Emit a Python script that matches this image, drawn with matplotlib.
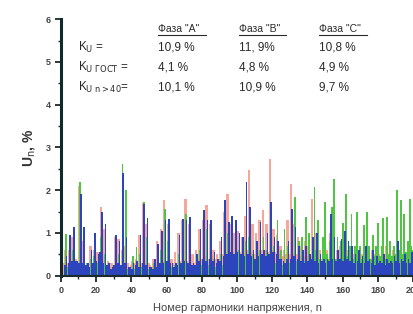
import numpy as np
import matplotlib
matplotlib.use('Agg')
import matplotlib.pyplot as plt

plt.rcParams['font.family'] = ['Liberation Sans', 'DejaVu Sans']

# harmonic numbers 1..200
harm = np.arange(1, 201)

# Phase A (red), % of fundamental, n = 1..200
phase_a = [
    0.00, 0.30, 0.60, 0.30, 0.60, 0.25, 0.90, 0.30, 0.40, 0.25,
    2.10, 0.30, 0.80, 0.25, 0.30, 0.20, 0.70, 0.25, 0.60, 0.30,
    0.55, 0.30, 1.60, 0.30, 1.10, 0.25, 0.35, 0.20, 0.30, 0.25,
    0.90, 0.30, 0.85, 0.25, 0.60, 0.30, 0.70, 0.30, 0.20, 0.25,
    0.35, 0.30, 0.40, 0.30, 0.95, 0.30, 1.70, 0.30, 1.20, 0.30,
    0.25, 0.20, 0.40, 0.30, 0.80, 0.30, 1.10, 0.35, 1.77, 0.35,
    1.20, 0.35, 0.40, 0.30, 0.55, 0.30, 1.00, 0.35, 1.30, 0.40,
    1.80, 0.35, 1.20, 0.30, 0.50, 0.30, 0.60, 0.40, 1.10, 0.40,
    1.30, 0.45, 1.65, 0.40, 1.20, 0.45, 0.60, 0.40, 0.50, 0.40,
    0.80, 0.50, 1.50, 0.55, 1.92, 0.55, 1.20, 0.55, 1.00, 0.60,
    1.05, 0.55, 0.90, 0.50, 1.40, 0.60, 2.47, 0.55, 1.20, 0.50,
    1.00, 0.55, 1.30, 0.60, 1.53, 0.60, 1.20, 0.55, 2.74, 0.60,
    1.10, 0.55, 0.95, 0.50, 0.70, 0.45, 0.60, 0.50, 1.30, 0.50,
    2.15, 0.50, 1.20, 0.50, 0.90, 0.45, 0.70, 0.45, 0.80, 0.45,
    0.70, 0.45, 1.80, 0.45, 1.00, 0.40, 0.60, 0.40, 0.70, 0.40,
    0.60, 0.40, 1.00, 0.40, 1.40, 0.40, 0.60, 0.40, 0.70, 0.40,
    0.80, 0.40, 0.60, 0.35, 0.70, 0.35, 0.50, 0.35, 0.60, 0.35,
    0.50, 0.35, 0.70, 0.35, 0.50, 0.30, 0.60, 0.30, 0.50, 0.30,
    0.50, 0.30, 0.60, 0.30, 0.70, 0.30, 0.50, 0.30, 0.60, 0.30,
    0.70, 0.30, 0.60, 0.30, 0.60, 0.30, 0.50, 0.30, 0.70, 0.30,
]

# Phase C (green)
phase_c = [
    0.00, 0.15, 0.97, 0.20, 0.50, 0.20, 0.60, 0.20, 0.30, 0.15,
    2.18, 0.20, 0.75, 0.15, 0.30, 0.15, 0.40, 0.20, 0.45, 0.15,
    0.30, 0.20, 0.90, 0.20, 0.50, 0.15, 0.20, 0.10, 0.15, 0.20,
    0.40, 0.15, 0.50, 0.20, 2.62, 0.20, 2.00, 0.15, 0.20, 0.10,
    0.45, 0.15, 0.68, 0.20, 0.50, 0.20, 1.73, 0.20, 0.90, 0.15,
    0.20, 0.10, 0.30, 0.15, 0.45, 0.20, 0.60, 0.20, 1.55, 0.20,
    0.80, 0.20, 0.20, 0.15, 0.25, 0.20, 0.50, 0.20, 0.70, 0.20,
    1.45, 0.20, 0.90, 0.20, 0.25, 0.20, 0.40, 0.20, 0.60, 0.25,
    0.80, 0.25, 1.10, 0.25, 0.70, 0.20, 0.40, 0.20, 0.30, 0.20,
    0.50, 0.25, 0.80, 0.30, 1.00, 0.30, 0.60, 0.25, 0.50, 0.25,
    0.60, 0.25, 0.50, 0.30, 0.80, 0.30, 0.90, 0.30, 0.50, 0.25,
    0.70, 0.30, 0.60, 0.25, 0.90, 0.30, 0.60, 0.30, 1.20, 0.30,
    0.70, 0.30, 1.30, 0.30, 0.60, 0.25, 1.10, 0.30, 0.70, 0.30,
    0.90, 0.30, 1.85, 0.35, 0.80, 0.30, 0.90, 0.35, 1.38, 0.30,
    1.00, 0.35, 0.90, 2.08, 0.60, 1.30, 0.40, 0.35, 0.90, 1.73,
    0.50, 0.40, 0.80, 1.60, 2.27, 0.40, 0.90, 0.40, 0.80, 1.24,
    0.50, 1.92, 0.45, 0.70, 1.45, 0.40, 0.70, 1.50, 0.45, 0.70,
    0.40, 1.18, 0.45, 1.50, 0.70, 0.40, 0.95, 0.45, 0.70, 1.24,
    0.45, 0.70, 1.34, 0.40, 1.38, 0.50, 0.80, 0.45, 0.70, 0.50,
    2.00, 0.60, 1.77, 0.50, 1.45, 0.55, 0.80, 1.80, 0.70, 0.60,
]

# Phase B (blue)
phase_b = [
    0.00, 0.25, 0.45, 0.30, 0.95, 0.35, 1.13, 0.35, 0.35, 0.30,
    1.90, 0.30, 1.15, 0.25, 0.30, 0.20, 0.60, 0.30, 1.00, 0.35,
    0.50, 0.55, 1.50, 0.30, 1.22, 0.25, 0.30, 0.15, 0.20, 0.25,
    0.95, 0.30, 0.80, 0.25, 2.40, 0.30, 0.90, 0.20, 0.20, 0.15,
    0.30, 0.25, 0.35, 0.20, 0.95, 0.30, 1.68, 0.25, 1.35, 0.20,
    0.20, 0.15, 0.40, 0.20, 0.75, 0.30, 1.05, 0.30, 1.30, 0.35,
    1.33, 0.30, 0.30, 0.20, 0.30, 0.25, 0.95, 0.30, 1.33, 0.35,
    1.30, 0.30, 1.37, 0.25, 0.30, 0.25, 0.50, 0.35, 1.10, 0.40,
    1.53, 0.35, 1.30, 0.40, 1.30, 0.35, 0.55, 0.30, 0.40, 0.35,
    0.90, 0.45, 1.77, 0.50, 1.25, 0.55, 1.40, 0.50, 1.30, 0.55,
    1.00, 0.50, 0.90, 0.45, 2.20, 0.50, 1.60, 0.45, 0.60, 0.40,
    0.80, 0.45, 1.25, 0.50, 0.60, 0.45, 1.00, 0.50, 1.72, 0.55,
    0.90, 0.50, 0.80, 0.40, 0.40, 0.35, 0.30, 0.40, 0.80, 0.40,
    1.55, 0.45, 1.15, 0.40, 0.70, 0.35, 0.60, 0.30, 0.70, 0.35,
    0.50, 0.40, 0.90, 0.35, 1.00, 0.30, 0.50, 0.35, 0.40, 0.30,
    0.40, 0.35, 1.45, 0.40, 0.90, 0.35, 0.60, 0.40, 0.85, 0.35,
    1.05, 0.40, 0.80, 0.35, 0.70, 0.30, 0.50, 0.35, 0.60, 0.30,
    0.45, 0.30, 0.70, 0.35, 0.40, 0.30, 0.60, 0.25, 0.45, 0.30,
    0.35, 0.30, 0.50, 0.25, 0.40, 0.30, 0.35, 0.30, 0.45, 0.35,
    0.80, 0.30, 0.40, 0.35, 0.50, 0.30, 0.40, 0.30, 0.55, 0.30,
]

# summary table
phases = ['Фаза "A"', 'Фаза "B"', 'Фаза "C"']
row_labels = [r'K$_{\mathrm{U}}$ =', r'K$_{\mathrm{U\ ГОСТ}}$ =', r'K$_{\mathrm{U\ n>40}}$=']
table_vals = [
    ['10,9 %', '11, 9%', '10,8 %'],
    ['4,1 %', '4,8 %', '4,9 %'],
    ['10,1 %', '10,9 %', '9,7 %'],
]

fig = plt.figure(figsize=(4.14, 3.14), dpi=100)
ax = fig.add_axes([0.147, 0.122, 0.851, 0.817])

ax.bar(harm - 0.3, phase_a, width=1.4, color='#f58a78', alpha=0.75, linewidth=0)
ax.bar(harm, phase_c, width=1.0, color='#52c443', linewidth=0)
ax.bar(harm + 0.3, phase_b, width=0.9, color='#2d45bc', linewidth=0)

ax.set_xlim(0, 200)
ax.set_ylim(0, 6)
ax.set_xticks(range(0, 201, 20))
ax.set_xticks(range(0, 201, 10), minor=True)
ax.set_yticks(range(0, 7))
ax.set_yticks(np.arange(0, 6.01, 0.5), minor=True)

for s in ['top', 'right']:
    ax.spines[s].set_visible(False)
ax.spines['left'].set_linewidth(2.2)
ax.spines['left'].set_color('#0f2a2a')
ax.spines['bottom'].set_linewidth(1.5)
ax.spines['bottom'].set_color('#1a2a2a')

ax.tick_params(which='major', direction='out', length=4, width=1.3, colors='#1a2a2a',
               labelsize=6.5, labelcolor='#444444')
ax.tick_params(which='minor', direction='out', length=2.5, width=1.0, colors='#1a2a2a')
for lbl in ax.get_xticklabels() + ax.get_yticklabels():
    lbl.set_fontweight('bold')

ax.set_ylabel(r'U$_\mathrm{n}$, %', fontsize=10, fontweight='bold', color='#333333', labelpad=6)
ax.set_xlabel('Номер гармоники напряжения, n', fontsize=8, color='#444444', labelpad=6)

# summary text block
col_x = [0.276, 0.505, 0.733]
row_y = [0.891, 0.813, 0.735]
txt_color = '#2a2a2a'
for x, name in zip(col_x, phases):
    ax.text(x, 0.962, name, transform=ax.transAxes, fontsize=7.5, color=txt_color,
            ha='left', va='center')
    ax.plot([x, x + 0.135], [0.94, 0.94], transform=ax.transAxes, color=txt_color,
            lw=0.8, clip_on=False)
for y, lbl, vals in zip(row_y, row_labels, table_vals):
    ax.text(0.048, y, lbl, transform=ax.transAxes, fontsize=8.5, color=txt_color,
            ha='left', va='center')
    for x, v in zip(col_x, vals):
        ax.text(x, y, v, transform=ax.transAxes, fontsize=8.5, color=txt_color,
                ha='left', va='center')

fig.savefig('out.png', dpi=100)
